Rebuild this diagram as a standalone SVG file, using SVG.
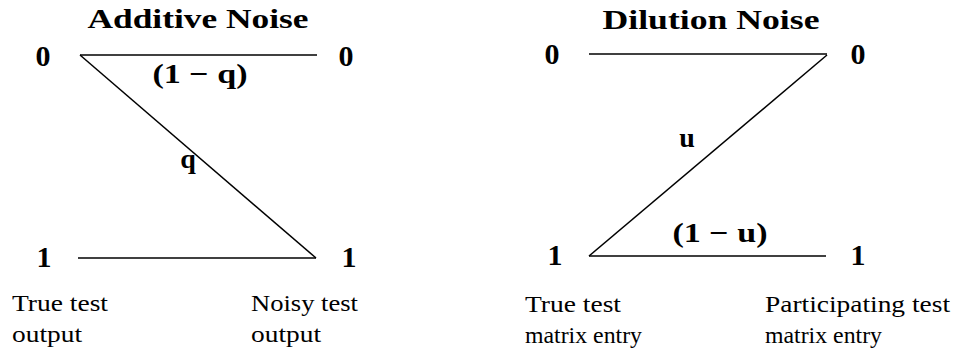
<svg xmlns="http://www.w3.org/2000/svg" width="956" height="350" viewBox="0 0 956 350">
<style>
text{font-family:'Liberation Serif','DejaVu Serif',serif;fill:#000}
.t{font-weight:bold;font-size:27px;text-anchor:middle}
.l{font-weight:bold;font-size:28px;text-anchor:middle}
.n{font-weight:bold;font-size:30px;text-anchor:middle}
.p{font-size:24px}
.e{stroke:#000;stroke-width:1.5;fill:none}
</style>
<rect width="956" height="350" fill="#fff"/>
<g id="title-additive"><text class="t" x="198" y="28" textLength="221" lengthAdjust="spacingAndGlyphs">Additive Noise</text></g>
<g id="title-dilution"><text class="t" x="711" y="29" textLength="217" lengthAdjust="spacingAndGlyphs">Dilution Noise</text></g>
<g id="a-in0"><text class="n" x="43" y="66">0</text></g>
<g id="a-out0"><text class="n" x="346" y="66">0</text></g>
<g id="a-in1"><text class="n" x="44" y="267">1</text></g>
<g id="a-out1"><text class="n" x="349" y="267">1</text></g>
<g id="d-in0"><text class="n" x="552" y="64">0</text></g>
<g id="d-out0"><text class="n" x="858" y="64">0</text></g>
<g id="d-in1"><text class="n" x="555" y="265">1</text></g>
<g id="d-out1"><text class="n" x="858" y="265">1</text></g>
<g id="connectors">
<line class="e" x1="80" y1="55" x2="317" y2="55"/>
<line class="e" x1="80" y1="55" x2="316" y2="258"/>
<line class="e" x1="78" y1="258" x2="316" y2="258"/>
<line class="e" x1="589" y1="54" x2="827" y2="54"/>
<line class="e" x1="827" y1="55" x2="589" y2="256"/>
<line class="e" x1="589" y1="256" x2="826" y2="256"/>
</g>
<g id="edge-labels">
<text class="l" x="200" y="83" textLength="95" lengthAdjust="spacingAndGlyphs">(1 − q)</text>
<text class="l" x="188" y="168">q</text>
<text class="l" x="687" y="147">u</text>
<text class="l" x="720" y="242" textLength="95" lengthAdjust="spacingAndGlyphs">(1 − u)</text>
</g>
<g id="caption-a-in"><text class="p" x="12" y="311" textLength="96" lengthAdjust="spacingAndGlyphs">True test</text><text class="p" x="12" y="342" textLength="70" lengthAdjust="spacingAndGlyphs">output</text></g>
<g id="caption-a-out"><text class="p" x="251" y="311" textLength="107" lengthAdjust="spacingAndGlyphs">Noisy test</text><text class="p" x="251" y="342" textLength="70" lengthAdjust="spacingAndGlyphs">output</text></g>
<g id="caption-d-in"><text class="p" x="525" y="312" textLength="96" lengthAdjust="spacingAndGlyphs">True test</text><text class="p" x="525" y="343" textLength="117" lengthAdjust="spacingAndGlyphs">matrix entry</text></g>
<g id="caption-d-out"><text class="p" x="765" y="312" textLength="185" lengthAdjust="spacingAndGlyphs">Participating test</text><text class="p" x="765" y="343" textLength="117" lengthAdjust="spacingAndGlyphs">matrix entry</text></g>
</svg>
